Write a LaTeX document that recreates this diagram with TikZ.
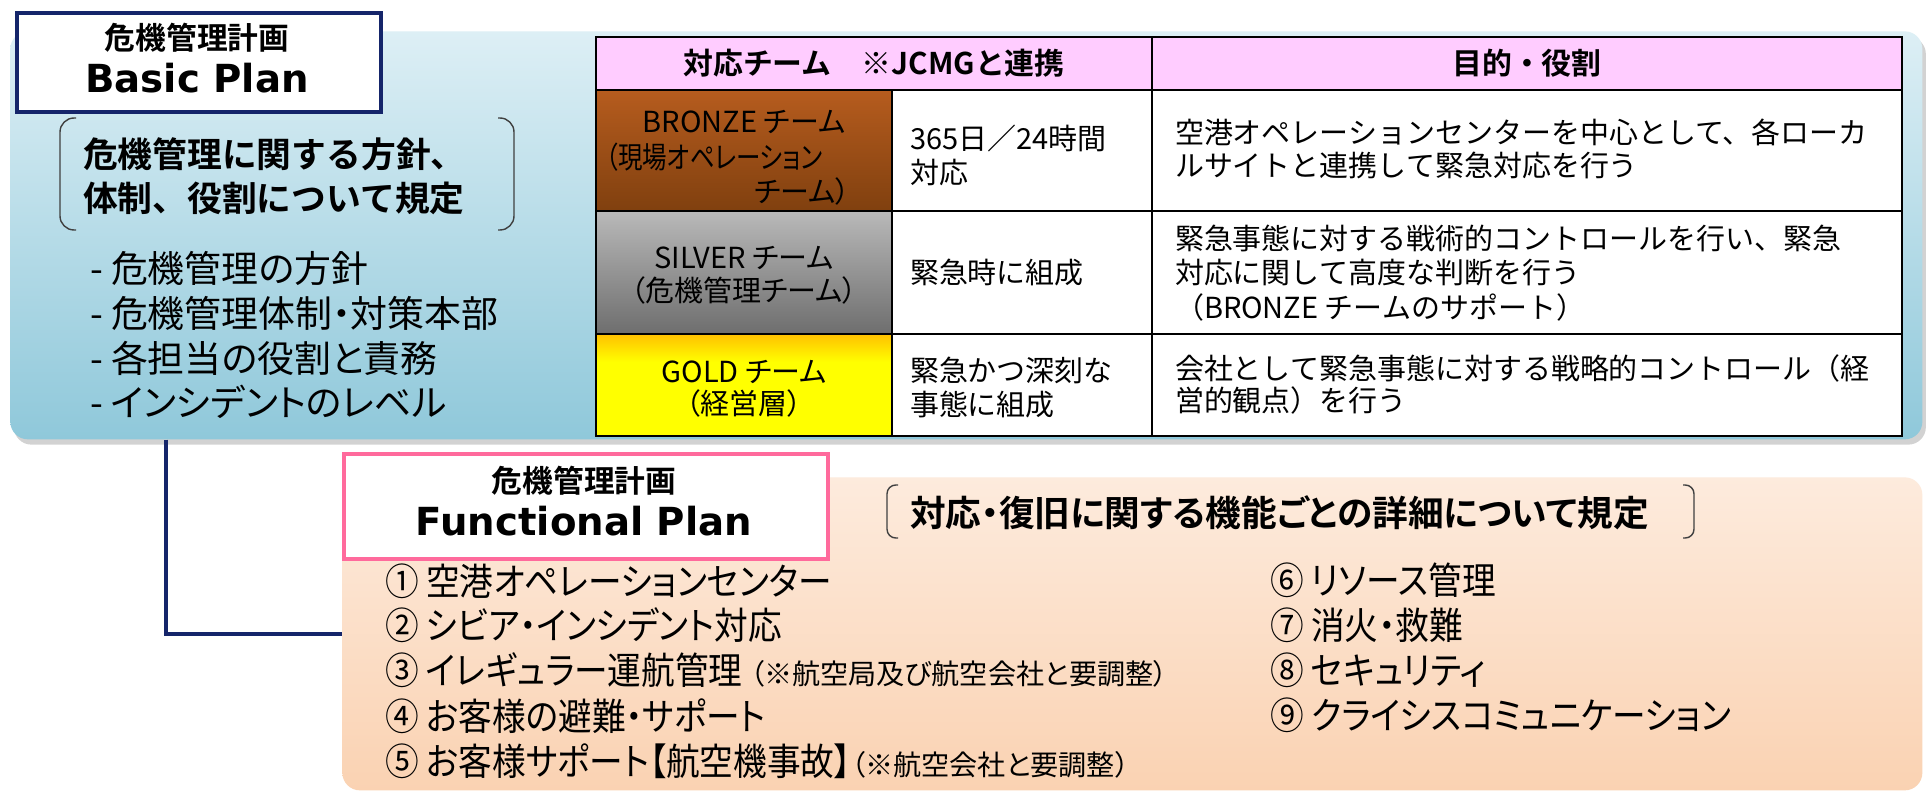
\documentclass[tikz,border=0pt]{standalone}
\usepackage{fontspec}
\setmainfont{Noto Sans CJK JP}[BoldFont={Noto Sans CJK JP Bold}]
\newfontfamily\jpp{Noto Sans CJK JP}[BoldFont={Noto Sans CJK JP Bold},RawFeature=+palt]
\newfontfamily\jpn{Noto Sans CJK JP}[RawFeature=+palt,FakeStretch=0.82]
\newfontfamily\jpi{Noto Sans CJK JP}[RawFeature=+palt,FakeStretch=0.9]
\newfontfamily\lat{DejaVu Sans}
\usetikzlibrary{shadows}
\newcommand\fs[1]{\fontsize{#1}{#1}\selectfont}
\newcommand\notefont{\jpp\fs{16}}
\definecolor{navy}{HTML}{15256A}
\definecolor{pinkb}{HTML}{FF6A9C}
\definecolor{blueT}{HTML}{DDEFF5}
\definecolor{blueB}{HTML}{8FC8DA}
\definecolor{peachT}{HTML}{FDEBDD}
\definecolor{peachB}{HTML}{FAD2B2}
\definecolor{hdrpink}{HTML}{FFCCFF}
\definecolor{bronzeT}{HTML}{B65C1E}
\definecolor{bronzeM}{HTML}{F2A772}
\definecolor{bronzeB}{HTML}{80400F}
\definecolor{silverT}{HTML}{B9B9B9}
\definecolor{silverM}{HTML}{EBEBEB}
\definecolor{silverB}{HTML}{6E6E6E}
\definecolor{goldT}{HTML}{FFC000}
\definecolor{goldY}{HTML}{FFFF00}
\begin{document}
\begin{tikzpicture}[x=0.02cm,y=-0.02cm,
  txt/.style={inner sep=0pt,outer sep=0pt},
  lft/.style={txt,anchor=west},
  rgt/.style={txt,anchor=east},
  body/.style={font=\fs{16.5}},
  col1/.style={font=\jpp\fs{16.5}},
  hdr/.style={font=\bfseries\fs{17}},
  listf/.style={font=\jpp\fs{21}},
  itemf/.style={font=\jpi\fs{21.3}},
  titf/.style={font=\bfseries\fs{17.5}},
  latf/.style={font=\lat\bfseries\fs{22}},
  brk/.style={line width=0.8pt,black!75},
  tbl/.style={line width=1.6pt,black},
  conn/.style={navy,line width=2.6pt},
  panel/.style={draw=none,inner sep=0pt,anchor=north west,rounded corners=10pt}]
\useasboundingbox (0,0) rectangle (1927,793);
\fill[white] (0,0) rectangle (1927,793);

% ---------- Basic plan panel ----------
\node[panel,top color=blueT,bottom color=blueB,
  minimum width=1912*0.02cm,minimum height=408*0.02cm,
  drop shadow={opacity=0.35,shadow xshift=2pt,shadow yshift=-3pt}] (basicpanel) at (10,31) {};
\node[draw=navy,line width=2pt,fill=white,inner sep=0pt,anchor=north west,
  minimum width=364*0.02cm,minimum height=99*0.02cm] (basicbox) at (15,11) {};
\node[txt,titf] (bt1) at (197,38) {危機管理計画};
\node[txt,latf] (bt2) at (197,78) {Basic Plan};

\draw[brk,rounded corners=8pt] (76,118) -- (60,118) -- (60,230) -- (76,230);
\draw[brk,rounded corners=8pt] (498,118) -- (514,118) -- (514,230) -- (498,230);
\node[lft,font=\bfseries\fs{19.8}] (bb1) at (83,154) {危機管理に関する方針、};
\node[lft,font=\bfseries\fs{19.8}] (bb2) at (83,198) {体制、役割について規定};

\node[lft,listf] (l1) at (90,268) {- 危機管理の方針};
\node[lft,listf] (l2) at (90,313) {- 危機管理体制・対策本部};
\node[lft,listf] (l3) at (90,358) {- 各担当の役割と責務};
\node[lft,listf] (l4) at (90,402) {- インシデントのレベル};

% ---------- table ----------
\fill[hdrpink] (596,37) rectangle (1902,90);
\shade[top color=bronzeT,middle color=bronzeM,bottom color=bronzeB] (596,90) rectangle (892,211);
\shade[top color=silverT,middle color=silverM,bottom color=silverB] (596,211) rectangle (892,334);
\fill[goldY] (596,334) rectangle (892,436);
\shade[top color=goldT,bottom color=goldY] (596,334) rectangle (892,362);
\fill[white] (892,90) rectangle (1902,436);
\draw[tbl] (596,37) rectangle (1902,436);
\draw[tbl] (596,90) -- (1902,90);
\draw[tbl] (596,211) -- (1902,211);
\draw[tbl] (596,334) -- (1902,334);
\draw[tbl] (1152,37) -- (1152,436);
\draw[tbl] (892,90) -- (892,436);

\node[txt,hdr] (h1) at (874,63) {対応チーム　※JCMGと連携};
\node[txt,hdr] (h2) at (1527,63) {目的・役割};

\node[txt,col1] (b1) at (744,122) {BRONZE チーム};
\node[lft,font=\jpn\fs{17}] (b2) at (606,157) {（現場オペレーション};
\node[rgt,col1] (b3) at (850,191) {チーム）};
\node[txt,col1] (s1) at (744,258) {SILVER チーム};
\node[txt,col1] (s2) at (744,290) {（危機管理チーム）};
\node[txt,col1] (g1) at (744,372) {GOLD チーム};
\node[txt,col1] (g2) at (744,403) {（経営層）};

\node[lft,body] (m1) at (910,138) {365日／24時間};
\node[lft,body] (m2) at (910,172) {対応};
\node[lft,body] (m3) at (910,273) {緊急時に組成};
\node[lft,body] (m4) at (910,370) {緊急かつ深刻な};
\node[lft,body] (m5) at (910,405) {事態に組成};

\node[lft,body] (p1) at (1175,132) {空港オペレーションセンターを中心として、各ローカ};
\node[lft,body] (p2) at (1175,165) {ルサイトと連携して緊急対応を行う};
\node[lft,body] (p3) at (1175,238) {緊急事態に対する戦術的コントロールを行い、緊急};
\node[lft,body] (p4) at (1175,273) {対応に関して高度な判断を行う};
\node[lft,body] (p5) at (1175,307) {（BRONZE チームのサポート）};
\node[lft,body] (p6) at (1175,368) {会社として緊急事態に対する戦略的コントロール（経};
\node[lft,body] (p7) at (1175,400) {営的観点）を行う};

% ---------- Functional plan panel ----------
\node[panel,top color=peachT,bottom color=peachB,
  minimum width=1580*0.02cm,minimum height=313*0.02cm] (funcpanel) at (342,477) {};
\node[draw=pinkb,line width=2pt,fill=white,inner sep=0pt,anchor=north west,
  minimum width=484*0.02cm,minimum height=105*0.02cm] (funcbox) at (342,452) {};
\node[txt,titf] (ft1) at (584,481) {危機管理計画};
\node[txt,latf] (ft2) at (584,521) {Functional Plan};

\draw[brk,rounded corners=5pt] (898,485) -- (887,485) -- (887,538) -- (898,538);
\draw[brk,rounded corners=5pt] (1683,485) -- (1694,485) -- (1694,538) -- (1683,538);
\node[lft,font=\jpp\bfseries\fs{20.3}] (fb) at (910,513) {対応・復旧に関する機能ごとの詳細について規定};

\node[lft,itemf] (i1) at (385,581) {① 空港オペレーションセンター};
\node[lft,itemf] (i2) at (385,625) {② シビア・インシデント対応};
\node[lft,itemf] (i3) at (385,670) {③ イレギュラー運航管理 {\notefont（※航空局及び航空会社と要調整）}};
\node[lft,itemf] (i4) at (385,716) {④ お客様の避難・サポート};
\node[lft,itemf] (i5) at (385,761) {⑤ お客様サポート【航空機事故】{\notefont（※航空会社と要調整）}};
\node[lft,itemf] (i6) at (1270,580) {⑥ リソース管理};
\node[lft,itemf] (i7) at (1270,625) {⑦ 消火・救難};
\node[lft,itemf] (i8) at (1270,670) {⑧ セキュリティ};
\node[lft,itemf] (i9) at (1270,715) {⑨ クライシスコミュニケーション};

% ---------- connector ----------
\coordinate (cx) at (166,0);
\coordinate (cy) at (0,634);
\draw[conn] (basicpanel.south -| cx) |- (funcpanel.west |- cy);
\end{tikzpicture}
\end{document}
